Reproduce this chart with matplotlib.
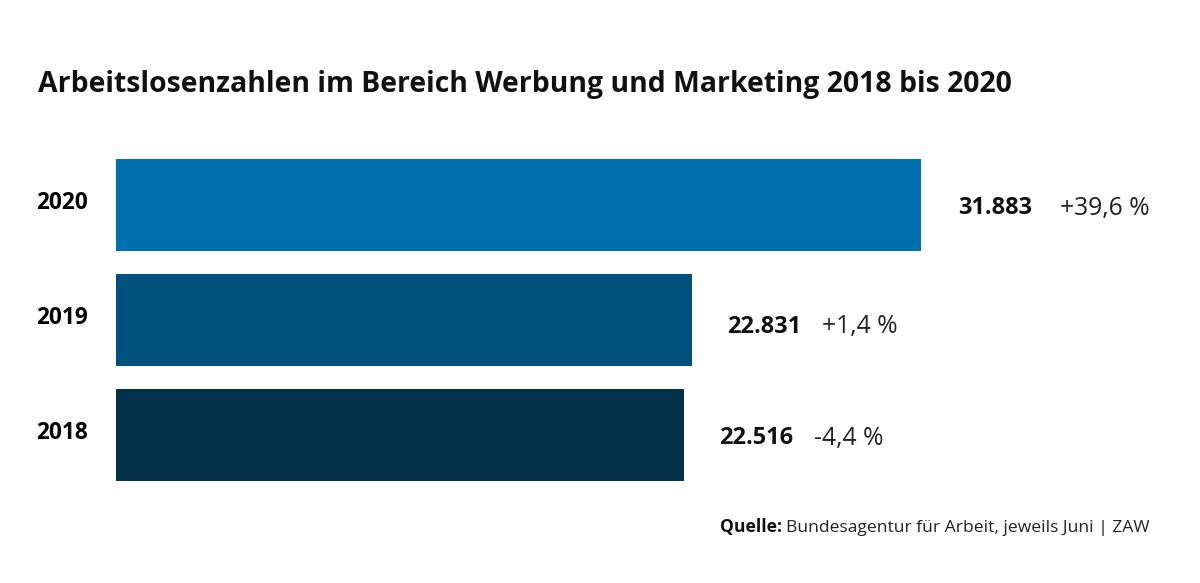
import matplotlib.pyplot as plt
from matplotlib.transforms import ScaledTranslation

# Data
years = ['2018', '2019', '2020']
values = [22516, 22831, 31883]
value_labels = ['22.516', '22.831', '31.883']
change_labels = ['-4,4 %', '+1,4 %', '+39,6 %']
colors = ['#03314B', '#00527E', '#0071AD']

plt.rcParams['font.family'] = ['Open Sans', 'DejaVu Sans']

fig = plt.figure(figsize=(12, 5.83), dpi=100)
W, H = 1200, 583

# axes placed so bars start at x=116 px and are centred at 205/320/435 px
ax = fig.add_axes([116 / W, 1 - 492.5 / H, (W - 116) / W, 345 / H])
px_per_unit = 805 / 31883
ax.set_xlim(0, (W - 116) / px_per_unit)
ax.set_ylim(-0.5, 2.5)

y = range(len(years))
ax.barh(y, values, height=0.8, color=colors)

ax.set_yticks(list(y), years)
ax.tick_params(axis='y', length=0, pad=20, labelsize=16.3)
shift_up = ScaledTranslation(0, 5 / 100, fig.dpi_scale_trans)
for lbl in ax.get_yticklabels():
    lbl.set_fontweight('bold')
    lbl.set_va('center_baseline')
    lbl.set_transform(lbl.get_transform() + shift_up)
ax.set_xticks([])
for s in ax.spines.values():
    s.set_visible(False)

# value and change labels
dy = [0, -4, 0]
for i, v in enumerate(values):
    off = 37 if i == 2 else 35
    ax.annotate(value_labels[i], (v, i), xytext=(off * 0.72, dy[i] * 0.72), textcoords='offset points',
                ha='left', va='center_baseline', fontsize=16.9, fontweight='bold', color='#111111')
    off2 = 139 if i == 2 else 130
    ax.annotate(change_labels[i], (v, i), xytext=(off2 * 0.72, dy[i] * 0.72), textcoords='offset points',
                ha='left', va='center_baseline', fontsize=17.8, color='#222222')

# title
fig.text(38 / W, 1 - 92 / H, 'Arbeitslosenzahlen im Bereich Werbung und Marketing 2018 bis 2020',
         ha='left', va='baseline', fontsize=20.4, fontweight='bold', color='#111111')

# source
src = fig.text(1150 / W, 1 - 532 / H, 'Bundesagentur für Arbeit, jeweils Juni | ZAW',
               ha='right', va='baseline', fontsize=12.6, color='#222222')
ax.annotate('Quelle: ', xy=(0, 0), xycoords=src, xytext=(0, 0), textcoords='offset points',
            ha='right', va='bottom', fontsize=12.6, fontweight='bold', color='#111111',
            annotation_clip=False)

fig.savefig('out.png', dpi=100)
